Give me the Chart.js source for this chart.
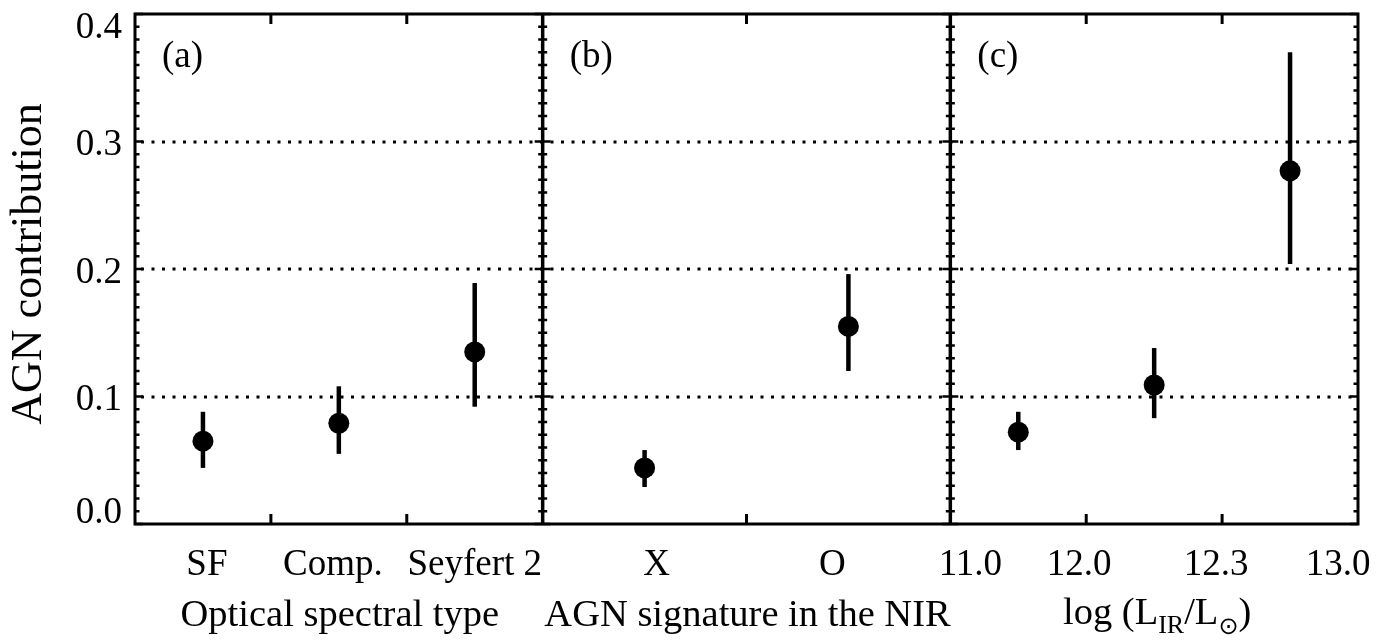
<!DOCTYPE html>
<html><head><meta charset="utf-8">
<script src="https://cdn.jsdelivr.net/npm/chart.js@4"></script>
<style>html,body{margin:0;padding:0;background:#fff}canvas{display:block}</style>
</head><body>
<canvas id="c" width="1398" height="643"></canvas>
<script>
// ---- data ----
const catA = ['SF', 'Comp.', 'Seyfert 2'];
const valA = [0.065, 0.079, 0.135];
const loA  = [0.044, 0.055, 0.092];
const hiA  = [0.088, 0.108, 0.189];

const catB = ['X', 'O'];
const valB = [0.044, 0.155];
const loB  = [0.029, 0.120];
const hiB  = [0.058, 0.196];

const edgeC = ['11.0', '12.0', '12.3', '13.0'];
const valC = [0.072, 0.109, 0.277];
const loC  = [0.058, 0.083, 0.204];
const hiC  = [0.088, 0.138, 0.370];

const yTicks = [0.0, 0.1, 0.2, 0.3, 0.4];
const panelLabels = ['(a)', '(b)', '(c)'];
const xTitleA = 'Optical spectral type';
const xTitleB = 'AGN signature in the NIR';
const yTitle = 'AGN contribution';

// ---- layout helpers (not data) ----
const PW = 3; // x units per panel
const panels = [
  {n: valA.length, val: valA, lo: loA, hi: hiA},
  {n: valB.length, val: valB, lo: loB, hi: hiB},
  {n: valC.length, val: valC, lo: loC, hi: hiC}
];
const nudgeA = [4, -6, 0];
const nudgeB = [12, -16];
const nudgeC = [20, -7, -6, -20];

const datasets = [];
const pts = [];
panels.forEach((p, pi) => {
  for (let i = 0; i < p.n; i++) {
    const xv = pi * PW + (i + 0.5) * PW / p.n;
    pts.push({x: xv, y: p.val[i]});
    datasets.push({
      type: 'line', showLine: true,
      data: [{x: xv, y: p.lo[i]}, {x: xv, y: p.hi[i]}],
      borderColor: '#000', borderWidth: 4.5, pointRadius: 0, fill: false
    });
  }
});
datasets.push({
  type: 'scatter', data: pts, pointRadius: 10.5, pointHoverRadius: 10.5,
  backgroundColor: '#000', borderColor: '#000', borderWidth: 0, pointStyle: 'circle'
});

const SERIF = '"Liberation Serif", "Times New Roman", serif';
const fTick = '37px ' + SERIF;
const fTitle = '38.5px ' + SERIF;

const framePlugin = {
  id: 'frame',
  beforeDatasetsDraw(chart) {
    const {ctx, chartArea: a, scales: {y}} = chart;
    ctx.save();
    ctx.strokeStyle = '#000';
    ctx.lineWidth = 2.8;
    ctx.setLineDash([3, 7.5]);
    yTicks.forEach(v => {
      if (v <= y.min || v >= y.max) return;
      const py = Math.round(y.getPixelForValue(v));
      ctx.beginPath(); ctx.moveTo(a.left + 6, py); ctx.lineTo(a.right, py); ctx.stroke();
    });
    ctx.restore();
  },
  afterDatasetsDraw(chart) {
    const {ctx, chartArea: a, scales: {x, y}} = chart;
    ctx.save();
    ctx.strokeStyle = '#000';
    ctx.fillStyle = '#000';
    ctx.setLineDash([]);
    // minor / major y ticks on every panel edge
    const edges = [0, PW, 2 * PW, 3 * PW];
    ctx.lineWidth = 2.5;
    for (let i = 0; i <= 40; i++) {
      const v = y.min + i * (y.max - y.min) / 40;
      const py = y.getPixelForValue(v);
      const len = (i % 10 === 0) ? 8 : 4.5;
      edges.forEach((e, ei) => {
        const px = x.getPixelForValue(e);
        ctx.beginPath();
        if (ei < edges.length - 1) { ctx.moveTo(px, py); ctx.lineTo(px + len, py); }
        if (ei > 0) { ctx.moveTo(px, py); ctx.lineTo(px - len, py); }
        ctx.stroke();
      });
    }
    // x ticks (bin edges inside panels), top and bottom
    ctx.lineWidth = 3;
    panels.forEach((p, pi) => {
      for (let k = 1; k < p.n; k++) {
        const px = x.getPixelForValue(pi * PW + k * PW / p.n);
        ctx.beginPath();
        ctx.moveTo(px, a.bottom); ctx.lineTo(px, a.bottom - 10);
        ctx.moveTo(px, a.top); ctx.lineTo(px, a.top + 10);
        ctx.stroke();
      }
    });
    // frame
    ctx.lineWidth = 3;
    ctx.strokeRect(a.left, a.top, a.right - a.left, a.bottom - a.top);
    ctx.lineWidth = 3.5;
    [PW, 2 * PW].forEach(e => {
      const px = x.getPixelForValue(e);
      ctx.beginPath(); ctx.moveTo(px, a.top); ctx.lineTo(px, a.bottom); ctx.stroke();
    });

    // y tick labels
    ctx.font = fTick;
    ctx.textAlign = 'right';
    ctx.textBaseline = 'alphabetic';
    yTicks.forEach(v => {
      let cy = y.getPixelForValue(v) + 1.5;
      cy = Math.max(a.top + 12, Math.min(a.bottom - 13, cy));
      ctx.fillText(v.toFixed(1), a.left - 13, cy + 12);
    });

    // x tick labels
    ctx.textAlign = 'center';
    const base = a.bottom + 51;
    catA.forEach((t, i) => ctx.fillText(t, x.getPixelForValue((i + 0.5) * PW / catA.length) + nudgeA[i], base));
    catB.forEach((t, i) => ctx.fillText(t, x.getPixelForValue(PW + (i + 0.5) * PW / catB.length) + nudgeB[i], base));
    edgeC.forEach((t, i) => ctx.fillText(t, x.getPixelForValue(2 * PW + i * PW / (edgeC.length - 1)) + nudgeC[i], base));

    // axis titles
    const tb = a.bottom + 102;
    ctx.font = fTitle;
    ctx.fillText(xTitleA, x.getPixelForValue(PW / 2) + 1, tb);
    ctx.fillText(xTitleB, x.getPixelForValue(PW * 1.5) + 1, tb);
    // log (L_IR / L_sun)
    const parts = [
      {t: 'log (L', f: fTitle, dy: 0},
      {t: 'IR', f: '26px ' + SERIF, dy: 9},
      {t: '/L', f: fTitle, dy: 0},
      {t: '\u2299', f: '24px "DejaVu Sans"', dy: 10},
      {t: ')', f: fTitle, dy: 0}
    ];
    let tw = 0;
    parts.forEach(p => { ctx.font = p.f; p.w = ctx.measureText(p.t).width; tw += p.w; });
    let cx = x.getPixelForValue(PW * 2.5) + 3 - tw / 2;
    ctx.textAlign = 'left';
    parts.forEach(p => { ctx.font = p.f; ctx.fillText(p.t, cx, tb - 2 + p.dy); cx += p.w; });

    // y title
    ctx.save();
    ctx.font = '44px ' + SERIF;
    ctx.textAlign = 'center';
    ctx.textBaseline = 'alphabetic';
    ctx.translate(41, (a.top + a.bottom) / 2 - 5);
    ctx.rotate(-Math.PI / 2);
    ctx.fillText(yTitle, 0, 0);
    ctx.restore();

    // panel labels
    ctx.font = fTick;
    ctx.textAlign = 'left';
    ctx.textBaseline = 'alphabetic';
    panelLabels.forEach((t, i) => {
      ctx.fillText(t, x.getPixelForValue(i * PW) + 27, a.top + 53);
    });
    ctx.restore();
  }
};

new Chart(document.getElementById('c'), {
  type: 'scatter',
  data: {datasets},
  options: {
    responsive: false,
    animation: false,
    devicePixelRatio: 1,
    layout: {padding: {left: 135, right: 40, top: 14, bottom: 119}},
    scales: {
      x: {type: 'linear', min: 0, max: 3 * PW, display: false},
      y: {type: 'linear', min: yTicks[0], max: yTicks[yTicks.length - 1], display: false}
    },
    plugins: {legend: {display: false}, tooltip: {enabled: false}},
    events: []
  },
  plugins: [framePlugin]
});
</script>
</body></html>
